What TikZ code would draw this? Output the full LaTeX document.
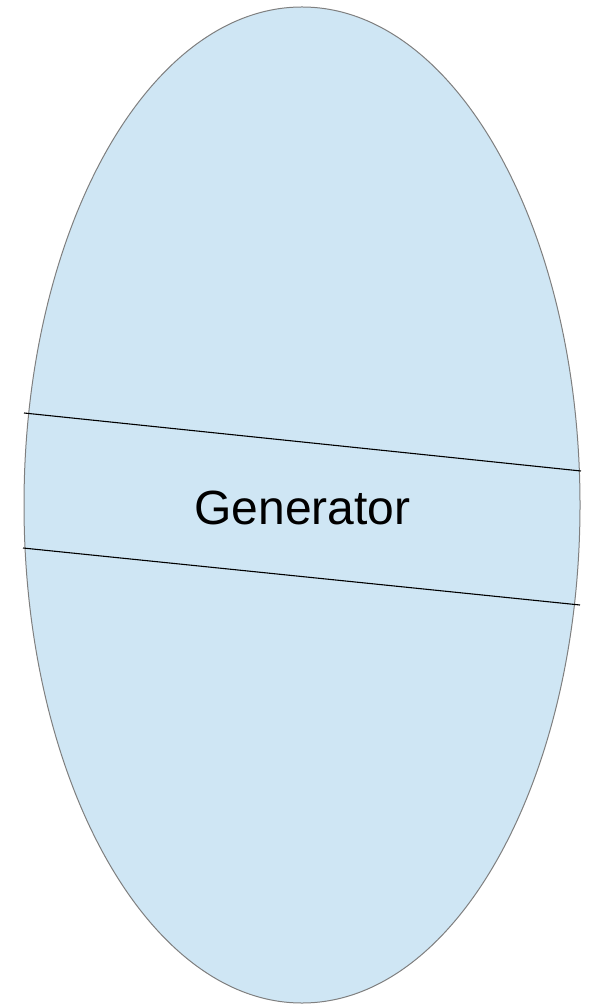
\documentclass[tikz,border=0pt]{standalone}
\usepackage{fontspec}
\setmainfont{Liberation Sans}
\usepackage{xcolor}
\usetikzlibrary{positioning,calc}
\definecolor{genfill}{HTML}{CFE6F4}
\definecolor{genline}{HTML}{7F7F7F}
\tikzset{
  band/.style={draw=black,line width=0.55pt},
  label/.style={font=\fontsize{24}{28}\selectfont,inner sep=0pt}
}
\begin{document}
\begin{tikzpicture}[x=0.5pt,y=-0.5pt]
  \useasboundingbox (0,0) rectangle (590,1004);
  \draw[fill=genfill,draw=genline,line width=0.5pt] (302,505) ellipse [x radius=278,y radius=498];
  \coordinate (l1) at (24,413); \coordinate (r1) at (581,471);
  \coordinate (l2) at (23,548); \coordinate (r2) at (580,605);
  \draw[band] (l1)--(r1); \draw[band] (l2)--(r2);
  \node[label] (gen) at (302.5,508) {Generator};
\end{tikzpicture}
\end{document}
